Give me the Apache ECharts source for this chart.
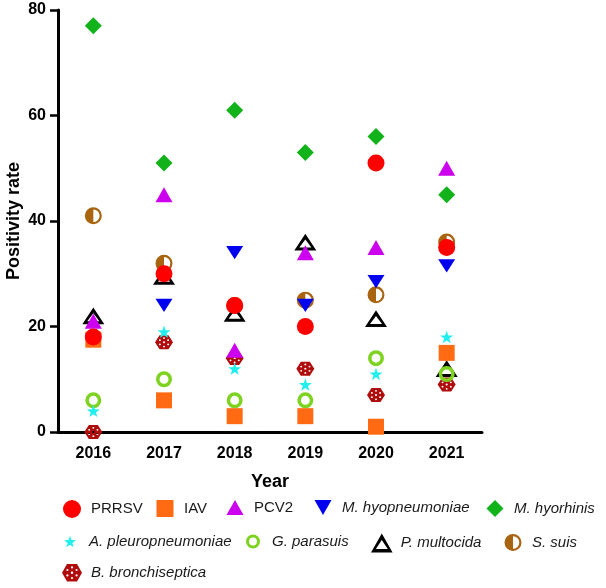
<!DOCTYPE html>
<html><head><meta charset="utf-8">
<script src="https://cdn.jsdelivr.net/npm/echarts@6/dist/echarts.min.js"></script>
<style>html,body{margin:0;padding:0;background:#fff}#c{width:606px;height:588px}</style>
</head><body><div id="c"></div>
<script>
// ---- data ----
const years = ['2016', '2017', '2018', '2019', '2020', '2021'];
const yTicks = [0, 20, 40, 60, 80];
const seriesNames = ['PRRSV', 'IAV', 'PCV2', 'M. hyopneumoniae', 'M. hyorhinis',
  'A. pleuropneumoniae', 'G. parasuis', 'P. multocida', 'S. suis', 'B. bronchiseptica'];
const PRRSV = [18, 30, 24, 20, 51, 35];
const IAV = [17.5, 6, 3, 3, 1, 15];
const PCV2 = [21, 45, 15.5, 34, 35, 50];
const M_hyopneumoniae = [null, 24, 34, 24, 28.5, 31.5];
const M_hyorhinis = [77, 51, 61, 53, 56, 45];
const A_pleuropneumoniae = [4, 19, 12, 9, 11, 18];
const G_parasuis = [6, 10, 6, 6, 14, 11];
const P_multocida = [22, 29.5, 22.5, 36, 21.5, 12];
const S_suis = [41, 32, 24, 25, 26, 36];
const B_bronchiseptica = [0, 17, 14, 12, 7, 9];
const seriesValues = [PRRSV, IAV, PCV2, M_hyopneumoniae, M_hyorhinis,
  A_pleuropneumoniae, G_parasuis, P_multocida, S_suis, B_bronchiseptica];

// ---- symbols / styles ----
const STAR = 'path://M50,0 L61.76,33.82 L97.55,34.55 L69.02,56.18 L79.39,90.45 L50,70 L20.61,90.45 L30.98,56.18 L2.45,34.55 L38.24,33.82 Z';
const RING = 'path://M50,0 A50,50 0 1,1 50,100 A50,50 0 1,1 50,0 Z M50,22 A28,28 0 1,0 50,78 A28,28 0 1,0 50,22 Z';
const OPEN_TRI = 'path://M50,0 L100,88 L0,88 Z M50,30 L22.5,72 L77.5,72 Z';
const HALF = 'path://M50,0 A50,50 0 1,1 50,100 A50,50 0 1,1 50,0 Z M50,13 L50,87 A37,37 0 0,0 50,13 Z';
const DOWN_TRI = 'path://M0,0 L100,0 L50,88 Z';
function dot(cx, cy, r) {
  return ' M' + cx + ',' + (cy - r) + ' A' + r + ',' + r + ' 0 1,0 ' + cx + ',' + (cy + r) +
    ' A' + r + ',' + r + ' 0 1,0 ' + cx + ',' + (cy - r) + ' Z';
}
const HEX = 'path://M0,43.5 L25,0 L75,0 L100,43.5 L75,87 L25,87 Z' +
  dot(50, 43.5, 6) + dot(50, 17, 5.5) + dot(50, 70, 5.5) + dot(27, 30, 5.5) + dot(73, 30, 5.5) +
  dot(27, 57, 5.5) + dot(73, 57, 5.5);

// size: [w, h] of the marker; lx/ly: legend icon centre; lw/lh: legend icon size
const styles = [
  { symbol: 'circle', size: [17, 17], color: '#FF0000', italic: false, lx: 72, ly: 509, lw: 18, lh: 18 },
  { symbol: 'rect', size: [16, 16], color: '#FF6A13', italic: false, lx: 165, ly: 509, lw: 17, lh: 17 },
  { symbol: 'triangle', size: [17, 15], color: '#CC00EE', italic: false, lx: 235, ly: 509, lw: 17, lh: 15 },
  { symbol: DOWN_TRI, size: [17, 15], color: '#0000F0', italic: true, lx: 323, ly: 509, lw: 17, lh: 15 },
  { symbol: 'diamond', size: [17, 17], color: '#12B21A', italic: true, lx: 495, ly: 509, lw: 17, lh: 17 },
  { symbol: STAR, size: [13, 13], color: '#22EEEE', italic: true, lx: 70, ly: 543, lw: 12, lh: 12 },
  { symbol: RING, size: [16, 16], color: '#7ED321', italic: true, lx: 253, ly: 543, lw: 14, lh: 14 },
  { symbol: OPEN_TRI, size: [22, 19], color: '#000000', italic: true, lx: 382, ly: 543, lw: 22, lh: 19 },
  { symbol: HALF, size: [17, 17], color: '#A8640F', italic: true, lx: 513, ly: 543, lw: 17, lh: 17 },
  { symbol: HEX, size: [18, 16], color: '#B00C0C', italic: true, lx: 72, ly: 573, lw: 20, lh: 18 }
];

const FONT = '"Liberation Sans", Arial, sans-serif';
const N = seriesNames.length;

const series = seriesNames.map((name, i) => ({
  name: name,
  type: 'scatter',
  symbol: styles[i].symbol,
  symbolSize: styles[i].size,
  symbolKeepAspect: true,
  clip: false,
  z: 2 + (N - i),
  itemStyle: { color: styles[i].color, opacity: 1 },
  emphasis: { disabled: true },
  data: seriesValues[i].map((v, j) => [years[j], v])
}));

const legends = seriesNames.map((name, i) => {
  const s = styles[i];
  const textH = 18;
  return {
    data: [name],
    left: s.lx - s.lw / 2,
    top: s.ly - Math.max(s.lh, textH) / 2,
    padding: 0,
    itemWidth: s.lw,
    itemHeight: s.lh,
    selectedMode: false,
    textStyle: {
      fontFamily: FONT, fontSize: 15, color: '#1a1a1a',
      fontStyle: s.italic ? 'italic' : 'normal',
      padding: [0, 0, 0, Math.max(0, 14 - s.lw / 2)]
    }
  };
});

const chart = echarts.init(document.getElementById('c'), null, { renderer: 'canvas' });
chart.setOption({
  backgroundColor: '#fff',
  animation: false,
  grid: { left: 58, right: 124, top: 10, bottom: 156, containLabel: false, outerBoundsMode: 'none' },
  xAxis: {
    type: 'category',
    data: years,
    boundaryGap: true,
    name: 'Year',
    nameLocation: 'middle',
    nameGap: 41,
    nameMoveOverlap: false,
    nameTextStyle: { fontFamily: FONT, fontSize: 18, fontWeight: 'bold', color: '#000' },
    axisLine: { lineStyle: { color: '#000', width: 3 } },
    axisTick: { alignWithLabel: true, length: 7, lineStyle: { color: '#000', width: 2.5 } },
    axisLabel: { fontFamily: FONT, fontSize: 16, fontWeight: 'bold', color: '#000', margin: 14 },
    splitLine: { show: false }
  },
  yAxis: {
    type: 'value',
    min: yTicks[0],
    max: yTicks[yTicks.length - 1],
    interval: yTicks[1] - yTicks[0],
    name: 'Positivity rate',
    nameLocation: 'middle',
    nameGap: 35,
    nameMoveOverlap: false,
    nameTextStyle: { fontFamily: FONT, fontSize: 18, fontWeight: 'bold', color: '#000' },
    axisLine: { show: true, lineStyle: { color: '#000', width: 3 } },
    axisTick: { show: true, length: 8, lineStyle: { color: '#000', width: 2.5 } },
    axisLabel: { fontFamily: FONT, fontSize: 16, fontWeight: 'bold', color: '#000', margin: 12 },
    splitLine: { show: false }
  },
  legend: legends,
  series: series
});
</script></body></html>
